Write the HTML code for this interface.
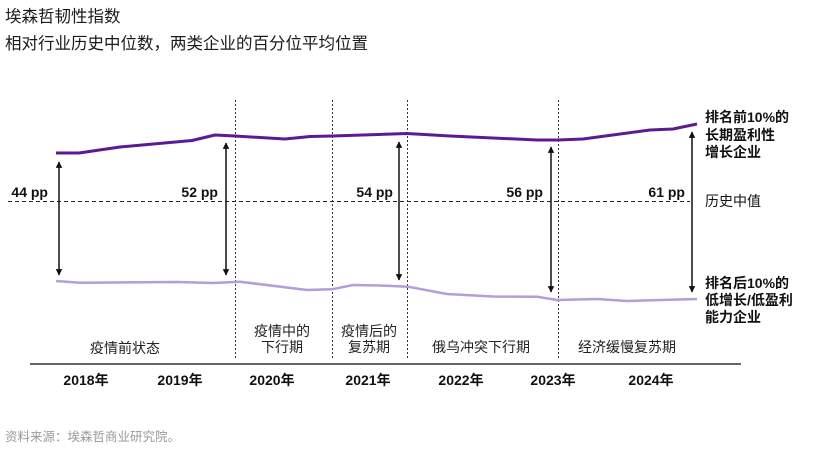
<!DOCTYPE html>
<html>
<head>
<meta charset="utf-8">
<style>
  html,body{margin:0;padding:0;background:#fff;}
  svg{display:block;}
  text{font-family:"Liberation Sans","Noto Sans CJK SC",sans-serif;}
</style>
</head>
<body>
<svg width="828" height="452" viewBox="0 0 828 452" xmlns="http://www.w3.org/2000/svg">
  <defs>
    <marker id="ah" viewBox="0 0 10 10" refX="9" refY="5" markerWidth="8" markerHeight="6.5" orient="auto-start-reverse" markerUnits="userSpaceOnUse">
      <path d="M0,0 L10,5 L0,10 z" fill="#111"/>
    </marker>
  </defs>

  <!-- Title -->
  <text x="5" y="22" font-size="16.5" fill="#1a1a1a">埃森哲韧性指数</text>
  <text x="5" y="49" font-size="16.5" fill="#1a1a1a">相对行业历史中位数，两类企业的百分位平均位置</text>

  <!-- Vertical dotted dividers -->
  <g stroke="#333" stroke-width="1" stroke-dasharray="2,2">
    <line x1="235.5" y1="100" x2="235.5" y2="358"/>
    <line x1="332.5" y1="100" x2="332.5" y2="358"/>
    <line x1="407.5" y1="100" x2="407.5" y2="358"/>
    <line x1="558.5" y1="100" x2="558.5" y2="358"/>
  </g>

  <!-- Horizontal median dashed -->
  <line x1="8" y1="201.5" x2="690" y2="201.5" stroke="#222" stroke-width="1" stroke-dasharray="4,3"/>

  <!-- Series -->
  <polyline fill="none" stroke="#b39ddb" stroke-width="2.5" stroke-linejoin="round"
    points="56,281 80,282.7 177,282 213,283 240,281.7 307,290 332,289.3 353,285 380,285.5 408,286.7 447,294 493,296.5 537,296.7 557,300 597,299 627,301 697,299"/>
  <polyline fill="none" stroke="#5e1995" stroke-width="3" stroke-linejoin="round"
    points="56,153 79,153 120,147 192,140.5 215,135 235,136 285,139 310,136.5 332,136 407,133.5 450,136 537,140 558,140 583,139 650,130 673,129 697,124"/>

  <!-- Arrows -->
  <g stroke="#111" stroke-width="1.5" marker-start="url(#ah)" marker-end="url(#ah)">
    <line x1="59" y1="162" x2="59" y2="275"/>
    <line x1="226" y1="143" x2="226" y2="275"/>
    <line x1="399" y1="142" x2="399" y2="280"/>
    <line x1="551" y1="147" x2="551" y2="292"/>
    <line x1="692" y1="132" x2="692" y2="292"/>
  </g>

  <!-- pp labels -->
  <g font-size="14" font-weight="bold" fill="#111" text-anchor="end">
    <text x="48" y="197">44 pp</text>
    <text x="218" y="197">52 pp</text>
    <text x="393" y="197">54 pp</text>
    <text x="543" y="197">56 pp</text>
    <text x="685" y="197">61 pp</text>
  </g>

  <!-- Right labels -->
  <g font-size="14" fill="#111">
    <text x="705" y="122" font-weight="bold">排名前10%的</text>
    <text x="705" y="140" font-weight="bold">长期盈利性</text>
    <text x="705" y="157" font-weight="bold">增长企业</text>
    <text x="705" y="206">历史中值</text>
    <text x="705" y="288" font-weight="bold">排名后10%的</text>
    <text x="705" y="305" font-weight="bold">低增长/低盈利</text>
    <text x="705" y="322" font-weight="bold">能力企业</text>
  </g>

  <!-- Period labels -->
  <g font-size="14" fill="#222" text-anchor="middle">
    <text x="125" y="353">疫情前状态</text>
    <text x="282" y="336">疫情中的</text>
    <text x="282" y="352">下行期</text>
    <text x="369" y="336">疫情后的</text>
    <text x="369" y="352">复苏期</text>
    <text x="481" y="352">俄乌冲突下行期</text>
    <text x="627" y="352">经济缓慢复苏期</text>
  </g>

  <!-- Axis -->
  <line x1="30" y1="364" x2="741" y2="364" stroke="#666" stroke-width="2"/>

  <!-- Years -->
  <g font-size="14" font-weight="bold" fill="#111" text-anchor="middle">
    <text x="86" y="385">2018年</text>
    <text x="180" y="385">2019年</text>
    <text x="272" y="385">2020年</text>
    <text x="368" y="385">2021年</text>
    <text x="461" y="385">2022年</text>
    <text x="553" y="385">2023年</text>
    <text x="651" y="385">2024年</text>
  </g>

  <!-- Source -->
  <text x="5" y="441" font-size="12.5" fill="#9a9a9a">资料来源：埃森哲商业研究院。</text>
</svg>
</body>
</html>
